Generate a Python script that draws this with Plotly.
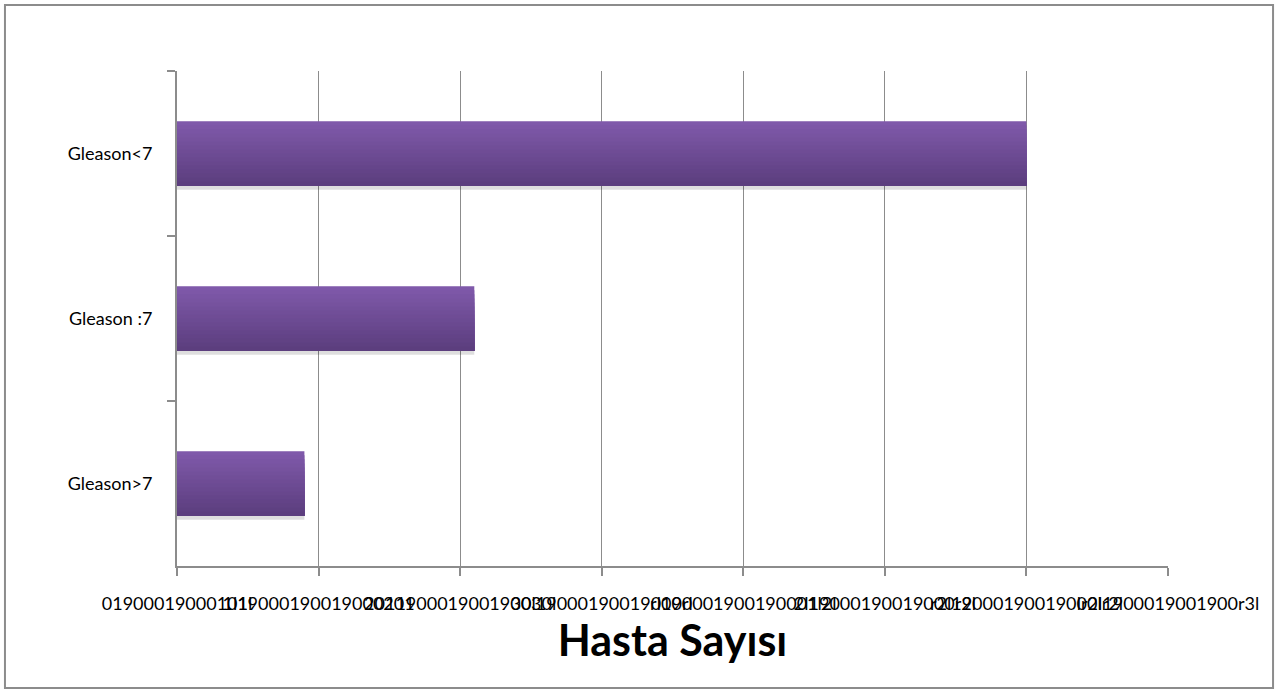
import plotly.graph_objects as go

# Hasta sayısı, Gleason skoruna göre
categories = ["Gleason<7", "Gleason :7", "Gleason>7"]
patients = [60, 21, 9]

tick_values = [0, 10, 20, 30, 40, 50, 60, 70]
tick_labels = [
    "01900019000101l",
    "1l19000190019000201",
    "201190001900190030l",
    "30l19000190019000rl",
    "rl190001900190001l2l",
    "2l19000190019000r2l",
    "r2l19000190019000lr2l",
    "lr2l1900019001900r3l",
]

BAR_WIDTH = 0.39
SLICES = 16
TOP = (127, 89, 170)
BOTTOM = (92, 62, 126)

fig = go.Figure()

# soft drop shadow under each bar
fig.add_trace(go.Bar(
    y=categories, x=patients, orientation="h",
    width=0.04, offset=BAR_WIDTH / 2 - 0.015,
    marker=dict(color="rgba(0,0,0,0.13)", line=dict(width=0)),
    hoverinfo="skip", showlegend=False,
))

# vertical gradient: each slice runs from its start to the bar's lower edge,
# so later (darker) slices cover the earlier ones without seams
step = BAR_WIDTH / SLICES
for i in range(SLICES):
    t = i / (SLICES - 1)
    c = tuple(round(TOP[k] + (BOTTOM[k] - TOP[k]) * t) for k in range(3))
    fig.add_trace(go.Bar(
        y=categories, x=patients, orientation="h",
        width=BAR_WIDTH - i * step, offset=-BAR_WIDTH / 2 + i * step,
        marker=dict(color="rgb(%d,%d,%d)" % c, line=dict(width=0)),
        showlegend=False,
    ))

fig.update_layout(
    barmode="overlay",
    width=1275, height=691,
    margin=dict(l=177, r=107, t=71, b=125),
    paper_bgcolor="white", plot_bgcolor="white",
    font=dict(family="Lato, 'Open Sans', sans-serif", color="black", size=18),
    xaxis=dict(
        range=[0, 70], tickvals=tick_values, ticktext=tick_labels,
        tickangle=0, automargin=False,
        showgrid=True, gridcolor="#8c8c8c", gridwidth=1,
        showline=True, linecolor="#8c8c8c", linewidth=2,
        ticks="outside", ticklen=8, tickcolor="#8c8c8c", tickwidth=2,
        tickfont=dict(size=18), zeroline=False, ticklabelstandoff=12,
        title=dict(text="<b>Hasta Sayısı</b>", font=dict(size=43), standoff=0),
    ),
    yaxis=dict(
        categoryorder="array", categoryarray=categories, autorange="reversed",
        automargin=False,
        showline=True, linecolor="#8c8c8c", linewidth=2,
        ticks="outside", ticklen=8, tickcolor="#8c8c8c", tickwidth=2,
        tickson="boundaries", showgrid=False, ticklabelstandoff=19,
        tickfont=dict(size=18),
    ),
    shapes=[dict(
        type="rect", xref="paper", yref="paper",
        x0=-0.1736, x1=1.106, y0=-0.2465, y1=1.1333,
        line=dict(color="#8c8c8c", width=2), fillcolor="rgba(0,0,0,0)", layer="below",
    )],
)

fig.write_html("out.html")
